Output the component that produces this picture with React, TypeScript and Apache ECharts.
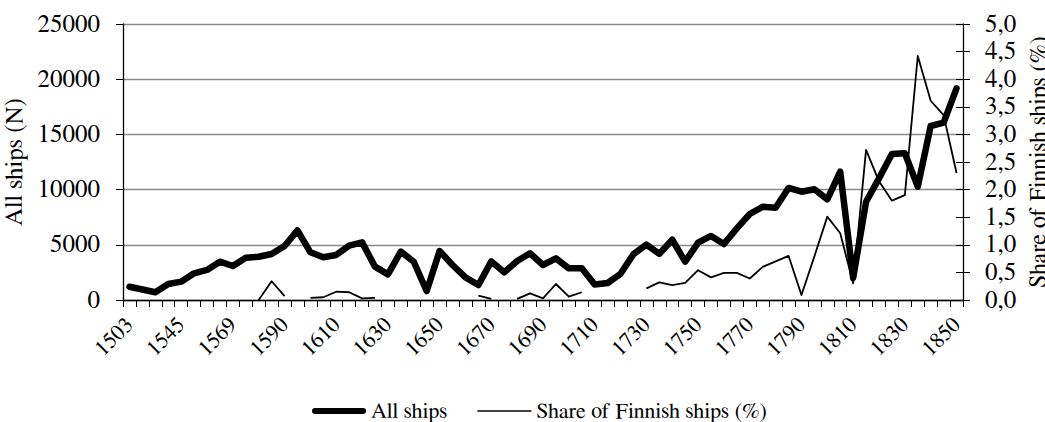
import React, { useEffect, useRef } from "react";
import * as echarts from "echarts";

const years: string[] = [
  "1503", "1528", "1536", "1540", "1545", "1550", "1557", "1562", "1569", "1574",
  "1579", "1585", "1590", "1595", "1600", "1605", "1610", "1615", "1620", "1625",
  "1630", "1635", "1640", "1645", "1650", "1655", "1660", "1665", "1670", "1675",
  "1680", "1685", "1690", "1695", "1700", "1705", "1710", "1715", "1720", "1725",
  "1730", "1735", "1740", "1745", "1750", "1755", "1760", "1765", "1770", "1775",
  "1780", "1785", "1790", "1795", "1800", "1805", "1810", "1815", "1820", "1825",
  "1830", "1835", "1840", "1845", "1850",
];

const allShips: number[] = [
  1200, 950, 700, 1450, 1660, 2420, 2720, 3470, 3080, 3830,
  3920, 4170, 4890, 6300, 4320, 3870, 4080, 4920, 5220, 3020,
  2320, 4380, 3470, 815, 4440, 3170, 2050, 1360, 3500, 2510,
  3530, 4230, 3170, 3770, 2870, 2870, 1400, 1540, 2370, 4150,
  5020, 4180, 5460, 3470, 5190, 5800, 5070, 6490, 7790, 8450,
  8360, 10150, 9810, 10030, 9120, 11620, 2000, 8900, 11020, 13220,
  13290, 10270, 15760, 16060, 19170,
];

const finnishShare: (number | null)[] = [
  null, null, null, null, null, null, null, null, null, null,
  0.0, 0.34, 0.07, null, 0.04, 0.05, 0.15, 0.14, 0.03, 0.04,
  null, null, null, null, null, null, null, 0.08, 0.02, null,
  0.02, 0.12, 0.03, 0.29, 0.06, 0.14, null, null, null, null,
  0.21, 0.32, 0.27, 0.31, 0.54, 0.41, 0.49, 0.49, 0.39, 0.6,
  0.7, 0.8, 0.09, 0.79, 1.51, 1.21, 0.3, 2.72, 2.15, 1.8,
  1.9, 4.42, 3.61, 3.35, 2.3,
];

const leftMax = 25000;
const leftStep = 5000;
const rightMax = 5;
const rightStep = 0.5;

const FONT = "FreeSerif";

export default function App() {
  const ref = useRef<HTMLDivElement>(null);

  useEffect(() => {
    if (!ref.current) return;
    const chart = echarts.init(ref.current, null, { renderer: "svg" });
    chart.setOption({
      animation: false,
      backgroundColor: "#ffffff",
      textStyle: { fontFamily: FONT, color: "#000" },
      grid: {
        left: 123,
        right: 82,
        top: 24,
        bottom: 122,
        containLabel: false,
        outerBoundsMode: "none",
      },
      legend: {
        left: 307,
        top: 395,
        itemWidth: 54,
        itemHeight: 14,
        itemGap: 30,
        symbolKeepAspect: true,
        textStyle: { fontFamily: FONT, fontSize: 22, color: "#000" },
        data: [
          {
            name: "All ships",
            icon: "path://M3,0H51A3,3 0 0 1 51,6H3A3,3 0 0 1 3,0Z",
            itemStyle: { color: "#000", borderWidth: 0 },
          },
          {
            name: "Share of Finnish ships (%)",
            icon: "path://M0,0H54V1.6H0Z",
            itemStyle: { color: "#000", borderWidth: 0 },
          },
        ],
      },
      xAxis: {
        type: "category",
        data: years,
        boundaryGap: true,
        axisLine: { lineStyle: { color: "#000", width: 1.3 } },
        axisTick: { show: true, interval: 0, length: 7, lineStyle: { color: "#000" } },
        axisLabel: {
          interval: 3,
          rotate: 45,
          margin: 21,
          fontFamily: FONT,
          fontSize: 22,
          color: "#000",
        },
        splitLine: { show: false },
      },
      yAxis: [
        {
          type: "value",
          min: 0,
          max: leftMax,
          interval: leftStep,
          position: "left",
          name: "All ships (N)",
          nameLocation: "middle",
          nameGap: 84,
          nameTextStyle: { fontFamily: FONT, fontSize: 25, color: "#000" },
          axisLine: { show: true, lineStyle: { color: "#000", width: 1.3 } },
          axisTick: { show: true, length: 7, lineStyle: { color: "#000" } },
          axisLabel: {
            margin: 23,
            fontFamily: FONT,
            fontSize: 25,
            color: "#000",
            formatter: (v: number) => String(v),
          },
          splitLine: { show: true, lineStyle: { color: "#8c8c8c", width: 1.3 } },
        },
        {
          type: "value",
          min: 0,
          max: rightMax,
          interval: rightStep,
          position: "right",
          name: "Share of Finnish ships (%)",
          nameLocation: "middle",
          nameRotate: 90,
          nameGap: 57,
          nameTextStyle: { fontFamily: FONT, fontSize: 24, color: "#000" },
          axisLine: { show: true, lineStyle: { color: "#000", width: 1.3 } },
          axisTick: { show: true, inside: true, length: 7, lineStyle: { color: "#000" } },
          axisLabel: {
            margin: 22,
            fontFamily: FONT,
            fontSize: 25,
            color: "#000",
            formatter: (v: number) => v.toFixed(1).replace(".", ","),
          },
          splitLine: { show: false },
        },
        {
          type: "value",
          min: 0,
          max: rightMax,
          interval: rightStep,
          position: "right",
          axisLine: { show: false },
          axisTick: { show: true, inside: false, length: 7, lineStyle: { color: "#000" } },
          axisLabel: { show: false },
          splitLine: { show: false },
        },
      ],
      series: [
        {
          name: "All ships",
          type: "line",
          yAxisIndex: 0,
          data: allShips,
          symbol: "none",
          lineStyle: { color: "#000", width: 6.5, cap: "round", join: "round" },
          itemStyle: { color: "#000" },
          z: 3,
        },
        {
          name: "Share of Finnish ships (%)",
          type: "line",
          yAxisIndex: 1,
          data: finnishShare,
          connectNulls: false,
          symbol: "none",
          lineStyle: { color: "#000", width: 1.8, join: "round" },
          itemStyle: { color: "#000" },
          z: 4,
        },
      ],
    });
    return () => chart.dispose();
  }, []);

  return (
    <div
      ref={ref}
      style={{ position: "absolute", left: 0, top: 0, width: 1045, height: 422 }}
    />
  );
}
